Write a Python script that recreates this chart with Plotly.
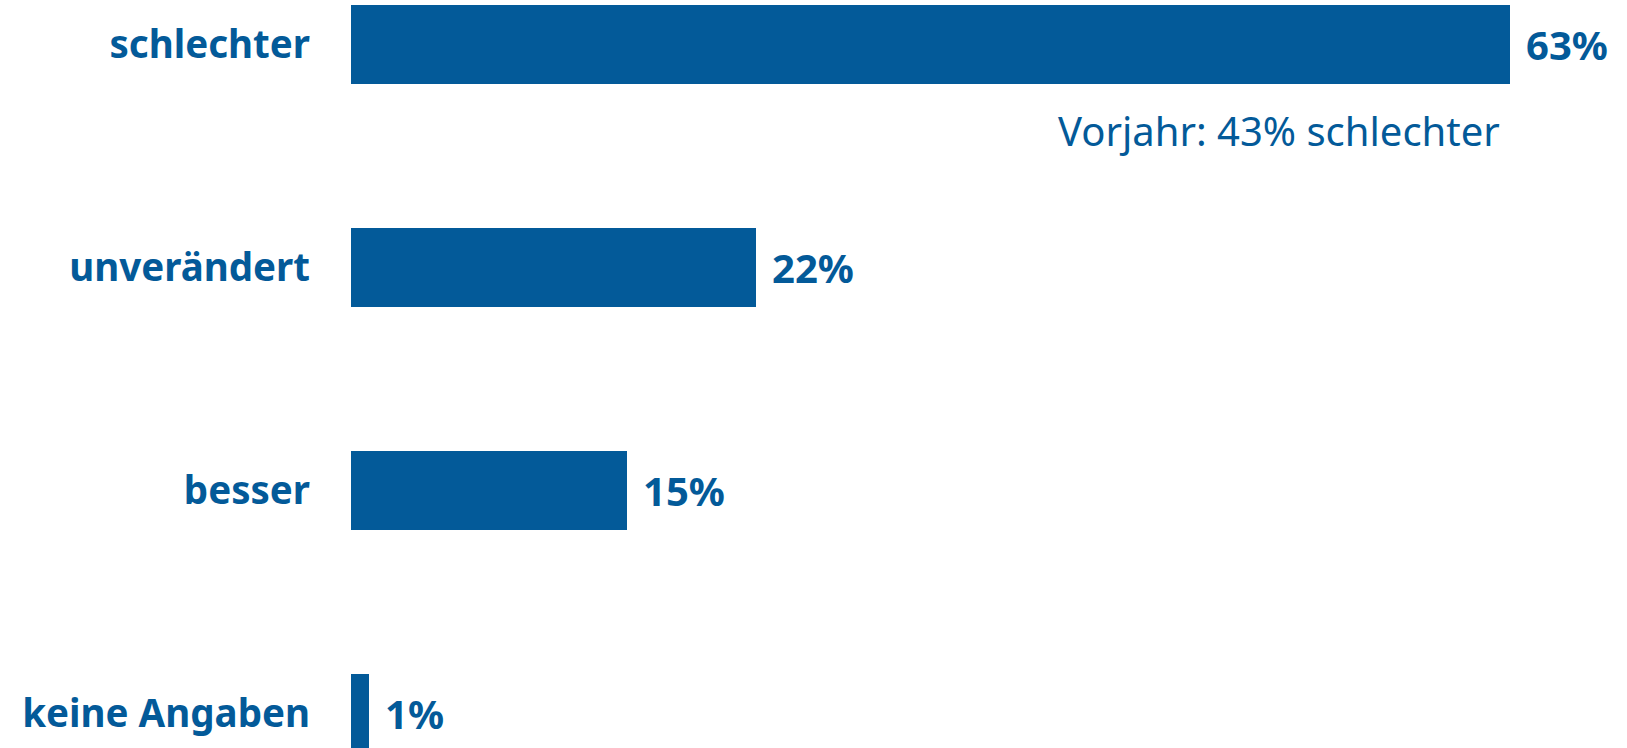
import plotly.graph_objects as go

categories = ["schlechter", "unverändert", "besser", "keine Angaben"]
values = [63, 22, 15, 1]
value_labels = ["63%", "22%", "15%", "1%"]
note_text = "Vorjahr: 43% schlechter"

BLUE = "#035A99"
FONT = "Noto Sans"

fig = go.Figure()
fig.add_trace(go.Bar(
    y=categories,
    x=values,
    orientation="h",
    marker=dict(color=BLUE, line=dict(width=0)),
    width=0.355,
    hoverinfo="skip",
))

for cat, v, lab in zip(categories, values, value_labels):
    fig.add_annotation(
        x=v, y=cat, xref="x", yref="y",
        text=f"<b>{lab}</b>", showarrow=False,
        xanchor="left", yanchor="middle", xshift=14,
        font=dict(family=FONT, size=40, color=BLUE),
    )

fig.add_annotation(
    x=values[0], y=categories[0], xref="x", yref="y",
    text=note_text, showarrow=False,
    xanchor="right", yanchor="middle", xshift=-8, yshift=-86,
    font=dict(family=FONT, size=40, color=BLUE),
)

fig.update_layout(
    width=1627, height=748,
    margin=dict(l=351, r=0, t=0, b=0),
    paper_bgcolor="white", plot_bgcolor="white",
    showlegend=False,
    bargap=0,
)
fig.update_xaxes(range=[0, 1276 / 18.4], visible=False, fixedrange=True)
fig.update_yaxes(
    categoryorder="array", categoryarray=categories,
    range=[3.154, -0.2],
    showgrid=False, zeroline=False, showline=False, ticks="",
    ticklabelstandoff=40,
    tickfont=dict(family=FONT, size=38.5, color=BLUE, weight="bold"),
    fixedrange=True,
)

fig.write_html(
    "out.html",
    config={"displayModeBar": False, "staticPlot": True},
    post_script="document.body.style.margin='0';document.body.style.overflow='hidden';",
)
